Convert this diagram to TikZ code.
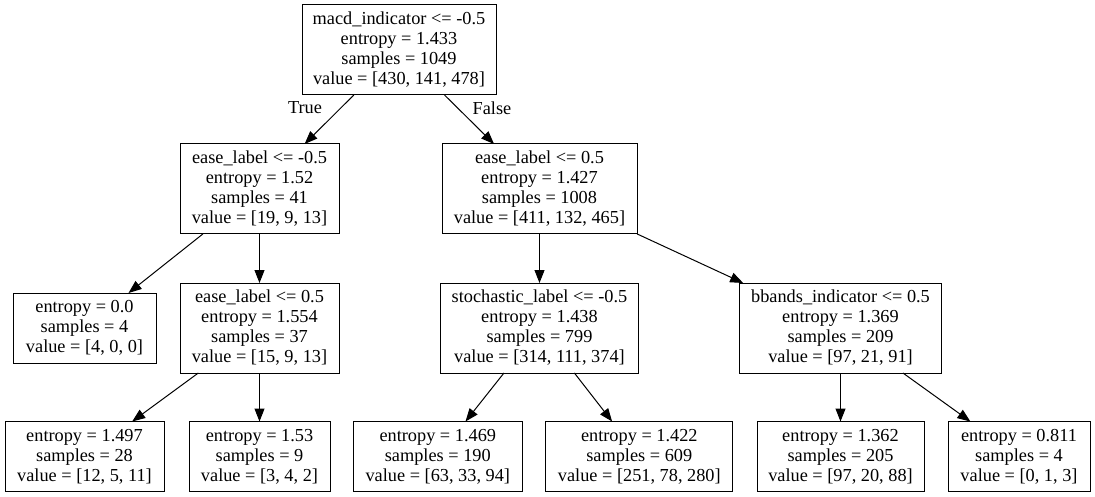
\documentclass[tikz,border=0pt]{standalone}
\usepackage{fontspec}
\setmainfont{Liberation Serif}
\usetikzlibrary{arrows.meta}
\begin{document}
\begin{tikzpicture}[x=1pt,y=-1pt,
  box/.style={draw, rectangle, line width=1pt, outer sep=0pt, inner sep=0pt,
    align=center, font=\fontsize{18.3}{20}\selectfont, minimum height=90pt},
  leaf/.style={box, minimum height=70pt},
  edge/.style={line width=1pt, -{Triangle[length=13pt,width=10pt]}},
  elab/.style={font=\fontsize{18.3}{20}\selectfont, inner sep=0pt}]
\useasboundingbox (0,0) rectangle (1095,497);
\fill[white] (0,0) rectangle (1095,497);
\node[box, minimum width=194pt] (root) at (399,50) {macd\_indicator <= -0.5\\entropy = 1.433\\samples = 1049\\value = [430, 141, 478]};
\node[box, minimum width=159pt] (l1a) at (259.5,189) {ease\_label <= -0.5\\entropy = 1.52\\samples = 41\\value = [19, 9, 13]};
\node[box, minimum width=195pt] (l1b) at (539.5,189) {ease\_label <= 0.5\\entropy = 1.427\\samples = 1008\\value = [411, 132, 465]};
\node[leaf, minimum width=143pt] (l2a) at (84.5,328) {entropy = 0.0\\samples = 4\\value = [4, 0, 0]};
\node[box, minimum width=159pt] (l2b) at (259.5,328) {ease\_label <= 0.5\\entropy = 1.554\\samples = 37\\value = [15, 9, 13]};
\node[box, minimum width=198pt] (r2a) at (539.5,328) {stochastic\_label <= -0.5\\entropy = 1.438\\samples = 799\\value = [314, 111, 374]};
\node[box, minimum width=202pt] (r2b) at (840.5,328) {bbands\_indicator <= 0.5\\entropy = 1.369\\samples = 209\\value = [97, 21, 91]};
\node[leaf, minimum width=159pt] (l3a) at (84.5,456.5) {entropy = 1.497\\samples = 28\\value = [12, 5, 11]};
\node[leaf, minimum width=141pt] (l3b) at (259.5,456.5) {entropy = 1.53\\samples = 9\\value = [3, 4, 2]};
\node[leaf, minimum width=169pt] (l3c) at (437.8,456.5) {entropy = 1.469\\samples = 190\\value = [63, 33, 94]};
\node[leaf, minimum width=187pt] (l3d) at (639.3,456.5) {entropy = 1.422\\samples = 609\\value = [251, 78, 280]};
\node[leaf, minimum width=167pt] (l3e) at (840.5,456.5) {entropy = 1.362\\samples = 205\\value = [97, 20, 88]};
\node[leaf, minimum width=142pt] (l3f) at (1019,456.5) {entropy = 0.811\\samples = 4\\value = [0, 1, 3]};
\draw[edge] (root) -- (l1a);
\draw[edge] (root) -- (l1b);
\draw[edge] (l1a) -- (l2a);
\draw[edge] (l1a) -- (l2b);
\draw[edge] (l2b) -- (l3a);
\draw[edge] (l2b) -- (l3b);
\draw[edge] (l1b) -- (r2a);
\draw[edge] (l1b) -- (r2b);
\draw[edge] (r2a) -- (l3c);
\draw[edge] (r2a) -- (l3d);
\draw[edge] (r2b) -- (l3e);
\draw[edge] (r2b) -- (l3f);
\node[elab] (ltrue) at (305,108) {True};
\node[elab] (lfalse) at (492,108) {False};
\end{tikzpicture}
\end{document}
